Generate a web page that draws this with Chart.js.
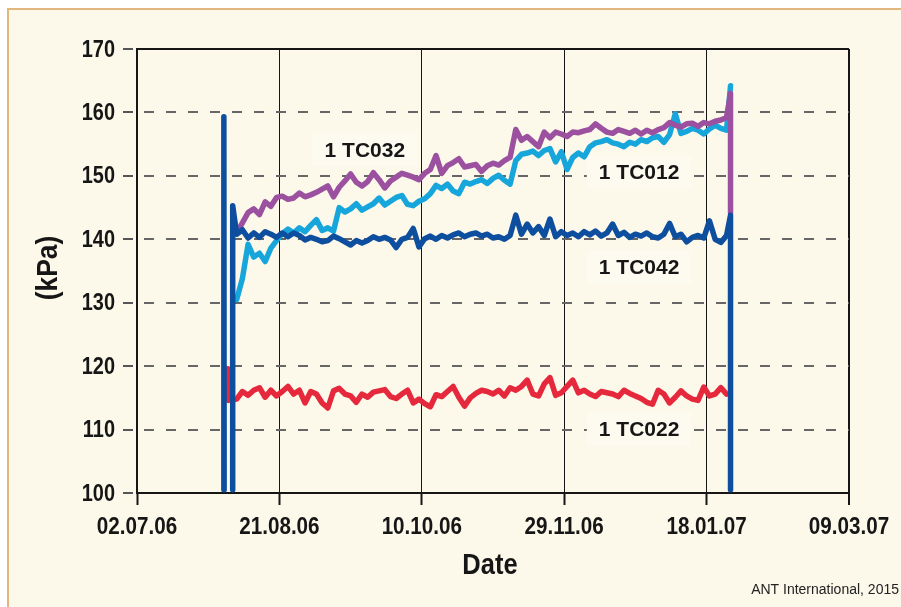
<!DOCTYPE html>
<html>
<head>
<meta charset="utf-8">
<script src="https://cdn.jsdelivr.net/npm/chart.js@4.4.1/dist/chart.umd.min.js"></script>
<style>
  html, body { margin: 0; padding: 0; background: #ffffff; }
  #frame {
    position: absolute; left: 7px; top: 8px; width: 894px; height: 599px;
    box-sizing: border-box; background: #fcf8ea;
    border-top: 2px solid #e2b67c; border-left: 2px solid #e2b67c;
  }
  #chart { position: absolute; left: 0; top: 0; }
</style>
</head>
<body>
<div id="frame"></div>
<canvas id="chart" width="901" height="607"></canvas>
<script>
// x axis: days counted from 02.07.06, one tick every 50 days
const dateLabels = ['02.07.06', '21.08.06', '10.10.06', '29.11.06', '18.01.07', '09.03.07'];

// sampling days of the records
const days = [
  35, 37, 39, 41, 43, 45, 47, 49, 51, 53,
  55, 57, 59, 61, 63, 65, 67, 69, 71, 73,
  75, 77, 79, 81, 83, 85, 87, 89, 91, 93,
  95, 97, 99, 101, 103, 105, 107, 109, 111, 113,
  115, 117, 119, 121, 123, 125, 127, 129, 131, 133,
  135, 137, 139, 141, 143, 145, 147, 149, 151, 153,
  155, 157, 159, 161, 163, 165, 167, 169, 171, 173,
  175, 177, 179, 181, 183, 185, 187, 189, 191, 193,
  195, 197, 199, 201, 203, 205, 207
];

// pressures (kPa)
const tc032 = [
  141.0, 142.6, 144.2, 144.8, 143.9, 145.9, 145.2, 146.6, 146.8, 146.3,
  146.5, 147.3, 146.7, 147.0, 147.4, 147.9, 148.4, 146.7, 148.2, 149.2,
  150.3, 149.0, 148.4, 149.1, 150.5, 149.4, 148.1, 149.2, 149.8, 150.4,
  150.1, 149.8, 149.4, 150.4, 151.0, 153.2, 150.4, 151.6, 152.1, 152.7,
  151.4, 151.6, 151.8, 150.7, 151.6, 152.0, 151.7, 152.4, 152.9, 157.3,
  155.6, 156.2, 155.4, 154.6, 156.9, 156.0, 156.9, 156.6, 156.2, 156.9,
  156.8, 157.1, 157.3, 158.2, 157.5, 156.9, 156.7, 157.3, 157.0, 156.7,
  157.2, 156.6, 157.2, 156.8, 157.3, 157.6, 158.4, 158.0, 157.7, 158.2,
  158.3, 157.8, 158.4, 158.2, 158.6, 158.8, 159.2
];
const tc012 = [
  130.5, 133.8, 139.2, 137.2, 137.8, 136.5, 138.6, 139.8, 140.9, 141.6,
  141.0, 141.8, 141.2, 142.2, 143.1, 141.4, 141.8, 141.3, 145.0, 144.3,
  144.8, 145.6, 144.6, 145.1, 145.6, 146.5, 145.4, 146.0, 146.6, 146.9,
  145.5, 145.3, 146.0, 146.4, 147.2, 148.5, 148.0, 148.7, 147.6, 147.2,
  149.0, 148.7, 149.1, 149.4, 148.8, 149.6, 150.1, 149.3, 148.7, 152.4,
  153.4, 153.6, 153.9, 153.2, 154.0, 154.3, 152.2, 153.8, 151.0, 152.9,
  153.6, 153.0, 154.6, 155.2, 155.4, 155.7, 155.2, 155.0, 154.6, 155.3,
  155.0, 155.7, 155.4, 156.0, 156.2, 155.3, 156.5, 159.8, 156.7, 157.0,
  157.5, 157.2, 156.6, 157.4, 158.0, 157.5, 157.2
];
const tc042 = [
  140.8, 141.5, 140.2, 141.0, 140.3, 141.2, 140.8, 140.3, 141.0, 140.4,
  141.0, 140.6, 139.9, 140.3, 140.0, 139.6, 139.8, 140.5, 140.1, 139.6,
  139.1, 139.8, 139.4, 139.8, 140.4, 140.0, 140.3, 139.9, 138.7, 140.0,
  140.3, 141.7, 138.8, 140.1, 140.5, 140.0, 140.6, 140.2, 140.7, 141.0,
  140.4, 140.8, 141.0, 140.5, 140.8, 140.2, 140.4, 140.0, 140.6, 143.8,
  140.8, 142.4, 141.0, 142.0, 140.6, 143.2, 140.4, 141.2, 140.6, 141.0,
  140.4, 141.2, 140.7, 141.3, 140.5, 141.0, 142.4, 140.6, 141.1, 140.3,
  140.8, 140.5, 141.0, 140.4, 140.2, 140.8, 142.5, 140.4, 140.8, 139.6,
  140.3, 140.6, 140.2, 142.9, 140.0, 139.5, 140.6
];
const tc022 = [
  114.8, 116.0, 115.4, 116.2, 116.6, 115.1, 116.2, 115.3, 116.0, 116.8,
  115.6, 116.2, 114.2, 116.0, 115.6, 114.2, 113.4, 116.1, 116.5, 115.6,
  115.3, 114.3, 115.6, 115.1, 115.9, 116.1, 116.3, 115.2, 114.9, 115.6,
  116.2, 114.2, 114.8, 114.1, 113.6, 115.5, 115.2, 116.0, 116.8, 115.1,
  113.7, 115.0, 115.7, 116.2, 116.0, 115.6, 116.2, 115.3, 116.6, 116.2,
  116.8, 117.8, 115.6, 115.3, 117.2, 118.2, 115.4, 115.8, 116.8, 117.8,
  115.8, 116.2, 115.6, 115.2, 116.0, 115.8, 115.6, 115.2, 116.2, 115.7,
  115.3, 114.9, 114.3, 114.0, 116.2, 115.6, 114.2, 115.1, 116.1, 115.3,
  114.8, 114.6, 116.7, 115.3, 115.6, 116.6, 115.6
];

// transients where the record starts and stops (null = pen lifted)
const tc042StartDays = [30.5, 30.5, 30.6, 32.0, 33.6, 33.6];
const tc042StartValues = [100.5, 159.3, 100.5, null, 100.5, 145.3];
const tc042EndDays = [208.4, 208.4];
const tc042EndValues = [143.8, 100.5];
const tc032EndDays = [208.4, 208.4];
const tc032EndValues = [163.0, 144.2];
const tc012EndDays = [208.4];
const tc012EndValues = [164.2];
const tc022StartDays = [31.9, 32.1];
const tc022StartValues = [119.6, 114.6];

// in-plot series names, anchored in data units (day, kPa)
const seriesLabels = [
  { text: '1 TC032', day: 80.0, kpa: 154.1 },
  { text: '1 TC012', day: 176.3, kpa: 150.6 },
  { text: '1 TC042', day: 176.3, kpa: 135.6 },
  { text: '1 TC022', day: 176.3, kpa: 110.0 }
];

const SANS = "'Liberation Sans', Arial, sans-serif";
const INK = '#161616';

function toPoints(d, v) {
  return d.map((x, i) => ({ x: x, y: v[i] }));
}

function lineSet(label, color, data) {
  return {
    label: label,
    data: data,
    borderColor: color,
    backgroundColor: color,
    borderWidth: 5.5,
    pointRadius: 0,
    tension: 0,
    spanGaps: false,
    borderJoinStyle: 'round',
    borderCapStyle: 'round',
    fill: false
  };
}

// narrow (Arial Narrow like) text: squeeze the regular face horizontally
function narrowText(ctx, text, x, y, squeeze, align, angle) {
  ctx.save();
  ctx.translate(x, y);
  if (angle) ctx.rotate(angle);
  ctx.scale(squeeze, 1);
  ctx.textAlign = align;
  ctx.textBaseline = 'middle';
  ctx.fillText(text, 0, 0);
  ctx.restore();
}

const chartDecor = {
  id: 'chartDecor',
  beforeDatasetsDraw(chart) {
    const { ctx, chartArea, scales } = chart;
    ctx.save();
    // top side of the plot box
    ctx.strokeStyle = INK;
    ctx.lineWidth = 2;
    ctx.beginPath();
    ctx.moveTo(chartArea.left, chartArea.top);
    ctx.lineTo(chartArea.right, chartArea.top);
    ctx.stroke();
    // label backgrounds hide the grid
    ctx.font = 'bold 21px ' + SANS;
    ctx.fillStyle = '#fdfaf0';
    seriesLabels.forEach(l => {
      const x = scales.x.getPixelForValue(l.day);
      const y = scales.y.getPixelForValue(l.kpa);
      const w = ctx.measureText(l.text).width;
      ctx.fillRect(x - w / 2 - 12, y - 17, w + 24, 34);
    });
    ctx.restore();
  },
  afterDraw(chart) {
    const { ctx, scales } = chart;
    ctx.save();
    ctx.fillStyle = INK;

    ctx.font = 'bold 21px ' + SANS;
    ctx.textAlign = 'center';
    ctx.textBaseline = 'middle';
    seriesLabels.forEach(l => {
      ctx.fillText(l.text, scales.x.getPixelForValue(l.day), scales.y.getPixelForValue(l.kpa) + 1);
    });

    // tick labels
    ctx.font = 'bold 24px ' + SANS;
    scales.y.ticks.forEach(t => {
      narrowText(ctx, String(t.value), 115, scales.y.getPixelForValue(t.value) + 1, 0.83, 'right');
    });
    scales.x.ticks.forEach((t, i) => {
      narrowText(ctx, dateLabels[i], scales.x.getPixelForValue(t.value), 527, 0.86, 'center');
    });

    // axis titles
    ctx.font = 'bold 30px ' + SANS;
    narrowText(ctx, 'Date', (scales.x.left + scales.x.right) / 2 - 3, 566, 0.85, 'center');
    narrowText(ctx, '(kPa)', 49, 268, 0.88, 'center', -Math.PI / 2);

    ctx.font = '14px ' + SANS;
    ctx.textAlign = 'right';
    ctx.textBaseline = 'alphabetic';
    ctx.fillStyle = '#222';
    ctx.fillText('ANT International, 2015', 899, 594);
    ctx.restore();
  }
};

new Chart(document.getElementById('chart'), {
  type: 'line',
  data: {
    datasets: [
      lineSet('1 TC042', '#0d4f9e', toPoints(tc042StartDays, tc042StartValues)
        .concat(toPoints(days, tc042), toPoints(tc042EndDays, tc042EndValues))),
      lineSet('1 TC032', '#9b519f', toPoints(days, tc032)
        .concat(toPoints(tc032EndDays, tc032EndValues))),
      lineSet('1 TC012', '#16a6db', toPoints(days, tc012)
        .concat(toPoints(tc012EndDays, tc012EndValues))),
      lineSet('1 TC022', '#e6283d', toPoints(tc022StartDays, tc022StartValues)
        .concat(toPoints(days, tc022)))
    ]
  },
  options: {
    responsive: false,
    animation: false,
    devicePixelRatio: 1,
    layout: { padding: { left: 0, right: 52, top: 49, bottom: 0 } },
    plugins: {
      legend: { display: false },
      tooltip: { enabled: false }
    },
    scales: {
      x: {
        type: 'linear',
        min: 0,
        max: 250,
        afterFit: s => { s.height = 114; },
        ticks: { stepSize: 50, autoSkip: false, maxRotation: 0, display: false },
        grid: {
          color: INK,
          lineWidth: c => (c.index === 5 ? 2 : 1),
          tickColor: INK,
          tickLength: 12,
          tickWidth: 2
        },
        border: { color: INK, width: 2 },
        title: { display: false, text: 'Date' }
      },
      y: {
        min: 100,
        max: 170,
        afterFit: s => { s.width = 137; },
        ticks: { stepSize: 10, display: false },
        grid: {
          color: c => (c.tick && (c.tick.value === 100 || c.tick.value === 170)) ? 'rgba(0,0,0,0)' : '#666',
          lineWidth: 2,
          tickColor: '#555',
          tickLength: 14,
          tickWidth: 2,
          tickBorderDash: [10, 20]
        },
        border: { color: INK, width: 2, dash: [10, 12], dashOffset: 16 },
        title: { display: false, text: '(kPa)' }
      }
    }
  },
  plugins: [chartDecor]
});
</script>
</body>
</html>
